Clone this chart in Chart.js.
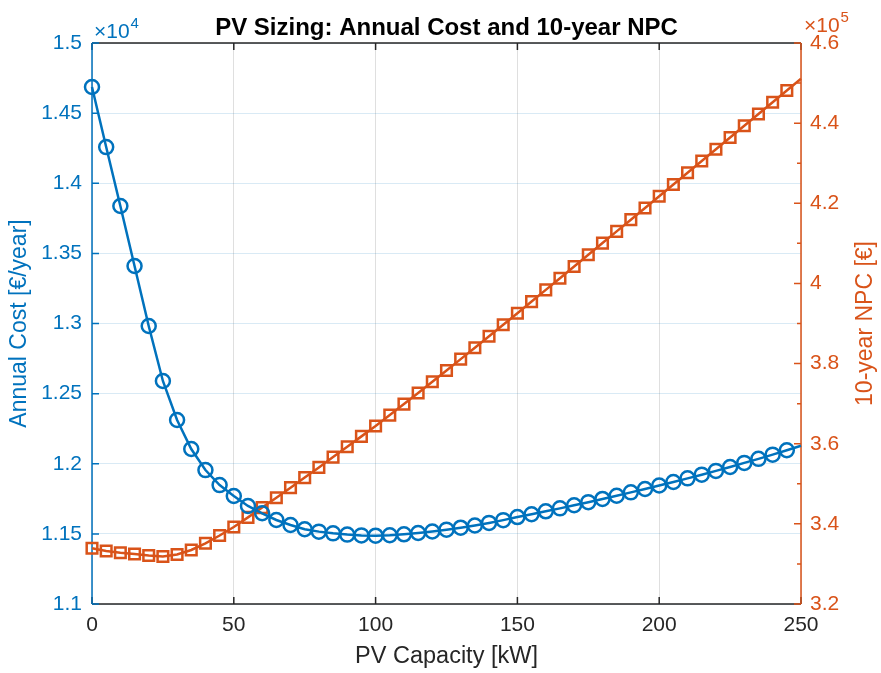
<!DOCTYPE html>
<html lang="en">
<head>
  <meta charset="UTF-8">
  <title>PV Sizing</title>
  <script src="https://cdn.jsdelivr.net/npm/chart.js"></script>
  <style>
    html, body { margin: 0; padding: 0; background: #fff; }
    #wrap { width: 881px; height: 673px; }
  </style>
</head>
<body>
  <div id="wrap">
    <canvas id="graficoPV" width="881" height="673"></canvas>
  </div>

  <script>
    // PV capacity steps (kW)
    const capacidade = [
      0, 5, 10, 15, 20, 25, 30, 35, 40, 45, 50, 55, 60, 65, 70, 75, 80, 85, 90, 95,
      100, 105, 110, 115, 120, 125, 130, 135, 140, 145, 150, 155, 160, 165, 170, 175,
      180, 185, 190, 195, 200, 205, 210, 215, 220, 225, 230, 235, 240, 245, 250
    ];

    // annual cost (€/year)
    const custoAnual = [
      14686, 14258, 13838, 13410, 12982, 12590, 12312, 12105, 11955, 11848,
      11770, 11699, 11647, 11599, 11563, 11533, 11516, 11504, 11495, 11489,
      11487, 11490, 11497, 11506, 11517, 11530, 11544, 11560, 11578, 11598,
      11620, 11640, 11661, 11682, 11704, 11726, 11749, 11772, 11796, 11820,
      11845, 11870, 11896, 11922, 11949, 11977, 12006, 12035, 12065, 12096,
      12128
    ];

    // 10-year net present cost (€)
    const npc10 = [
      333900, 333230, 332800, 332480, 332110, 331860, 332360, 333480, 335150, 337100,
      339220, 341610, 344060, 346530, 349030, 351550, 354090, 356660, 359230, 361830,
      364420, 367140, 369890, 372660, 375450, 378270, 381110, 383950, 386810, 389680,
      392560, 395470, 398390, 401310, 404230, 407150, 410070, 412990, 415910, 418820,
      421740, 424680, 427610, 430540, 433470, 436410, 439340, 442270, 445200, 448130,
      451060
    ];

    const xTicks = [0, 50, 100, 150, 200, 250];
    const custoTicks = [11000, 11500, 12000, 12500, 13000, 13500, 14000, 14500, 15000];
    const npcTicks = [320000, 340000, 360000, 380000, 400000, 420000, 440000, 460000];

    const AZUL = '#0072BD';
    const LARANJA = '#D95319';
    const CINZA = '#262626';
    const FONTE = '"Liberation Sans", Arial, Helvetica, sans-serif';

    const pontos = (ys) => capacidade.map((x, i) => ({ x: x, y: ys[i] }));
    // last sample is on the axis edge, no marker there
    const raios = (r) => capacidade.map((x, i) => (i === capacidade.length - 1 ? 0 : r));

    // "×10^n" multiplier above an axis
    function expoente(ctx, x, y, n, cor) {
      ctx.fillStyle = cor;
      ctx.font = '21px ' + FONTE;
      ctx.fillText('×10', x, y);
      const w = ctx.measureText('×10').width;
      ctx.font = '15px ' + FONTE;
      ctx.fillText(n, x + w + 1, y - 10);
    }

    // axis lines, inward tick marks, titles and exponent labels
    const eixosMatlab = {
      id: 'eixosMatlab',
      beforeDatasetsDraw(chart) {
        const { ctx, chartArea: a, scales } = chart;
        ctx.save();
        ctx.lineWidth = 1.5;

        // top and bottom box lines
        ctx.strokeStyle = CINZA;
        ctx.beginPath();
        ctx.moveTo(a.left, a.top); ctx.lineTo(a.right, a.top);
        ctx.moveTo(a.left, a.bottom); ctx.lineTo(a.right, a.bottom);
        xTicks.forEach(v => {
          const px = scales.x.getPixelForValue(v);
          ctx.moveTo(px, a.bottom); ctx.lineTo(px, a.bottom - 7);
          ctx.moveTo(px, a.top); ctx.lineTo(px, a.top + 7);
        });
        ctx.stroke();

        // left axis
        ctx.strokeStyle = AZUL;
        ctx.beginPath();
        ctx.moveTo(a.left, a.top); ctx.lineTo(a.left, a.bottom);
        custoTicks.forEach(v => {
          const py = scales.y.getPixelForValue(v);
          ctx.moveTo(a.left, py); ctx.lineTo(a.left + 7, py);
        });
        ctx.stroke();

        // right axis, with minor ticks
        ctx.strokeStyle = LARANJA;
        ctx.beginPath();
        ctx.moveTo(a.right, a.top); ctx.lineTo(a.right, a.bottom);
        scales.y1.ticks.forEach(t => {
          const py = scales.y1.getPixelForValue(t.value);
          const len = npcTicks.includes(t.value) ? 7 : 4;
          ctx.moveTo(a.right, py); ctx.lineTo(a.right - len, py);
        });
        ctx.stroke();
        ctx.restore();
      },
      afterDraw(chart) {
        const { ctx, chartArea: a } = chart;
        const cx = (a.left + a.right) / 2;
        const cy = (a.top + a.bottom) / 2;
        ctx.save();

        ctx.fillStyle = '#000';
        ctx.font = 'bold 24px ' + FONTE;
        ctx.textAlign = 'center';
        ctx.textBaseline = 'alphabetic';
        ctx.fillText('PV Sizing: Annual Cost and 10-year NPC', cx, 35);

        ctx.fillStyle = CINZA;
        ctx.font = '23.5px ' + FONTE;
        ctx.textBaseline = 'middle';
        ctx.fillText('PV Capacity [kW]', cx, 657);

        ctx.font = '23px ' + FONTE;
        ctx.save();
        ctx.translate(20, cy);
        ctx.rotate(-Math.PI / 2);
        ctx.fillStyle = AZUL;
        ctx.fillText('Annual Cost [€/year]', 0, 0);
        ctx.restore();

        ctx.save();
        ctx.translate(866, cy);
        ctx.rotate(-Math.PI / 2);
        ctx.fillStyle = LARANJA;
        ctx.fillText('10-year NPC [€]', 0, 0);
        ctx.restore();

        ctx.textAlign = 'left';
        ctx.textBaseline = 'alphabetic';
        expoente(ctx, 94, 38, '4', AZUL);
        expoente(ctx, 804, 32, '5', LARANJA);
        ctx.restore();
      }
    };

    const ctxPV = document.getElementById('graficoPV').getContext('2d');

    const graficoPV = new Chart(ctxPV, {
      type: 'line',
      data: {
        datasets: [
          {
            label: 'Annual Cost',
            data: pontos(custoAnual),
            yAxisID: 'y',
            borderColor: AZUL,
            borderWidth: 2.5,
            pointStyle: 'circle',
            pointRadius: raios(7),
            pointBorderWidth: 2.5,
            pointBorderColor: AZUL,
            pointBackgroundColor: 'transparent',
            tension: 0,
            clip: false
          },
          {
            label: '10-year NPC',
            data: pontos(npc10),
            yAxisID: 'y1',
            borderColor: LARANJA,
            borderWidth: 2.5,
            pointStyle: 'rect',
            pointRadius: raios(7.5),
            pointBorderWidth: 2.5,
            pointBorderColor: LARANJA,
            pointBackgroundColor: 'transparent',
            tension: 0,
            clip: false
          }
        ]
      },
      options: {
        responsive: false,
        animation: false,
        layout: { padding: { top: 43, left: 0, right: 0, bottom: 0 } },
        scales: {
          x: {
            type: 'linear',
            min: 0,
            max: 250,
            afterFit: (s) => { s.height = 69; },
            afterBuildTicks: (s) => { s.ticks = xTicks.map(v => ({ value: v })); },
            ticks: { color: CINZA, padding: 9, font: { family: FONTE, size: 21 }, maxRotation: 0 },
            grid: { color: 'rgba(38,38,38,0.15)', drawTicks: false, lineWidth: 1 },
            border: { display: false }
          },
          y: {
            position: 'left',
            min: 11000,
            max: 15000,
            afterFit: (s) => { s.width = 92; },
            afterBuildTicks: (s) => { s.ticks = custoTicks.map(v => ({ value: v })); },
            ticks: {
              color: AZUL,
              padding: 10,
              font: { family: FONTE, size: 21 },
              callback: (v) => String(parseFloat((v / 1e4).toFixed(2)))
            },
            grid: { color: 'rgba(0,114,189,0.15)', drawTicks: false, lineWidth: 1 },
            border: { display: false }
          },
          y1: {
            position: 'right',
            min: 320000,
            max: 460000,
            afterFit: (s) => { s.width = 80; },
            ticks: {
              stepSize: 10000,
              autoSkip: false,
              color: LARANJA,
              padding: 9,
              font: { family: FONTE, size: 21 },
              callback: (v) => npcTicks.includes(v) ? String(parseFloat((v / 1e5).toFixed(1))) : ''
            },
            grid: { display: false, drawTicks: false },
            border: { display: false }
          }
        },
        plugins: {
          legend: { display: false },
          tooltip: { enabled: false },
          title: { display: false }
        }
      },
      plugins: [eixosMatlab]
    });
  </script>
</body>
</html>
